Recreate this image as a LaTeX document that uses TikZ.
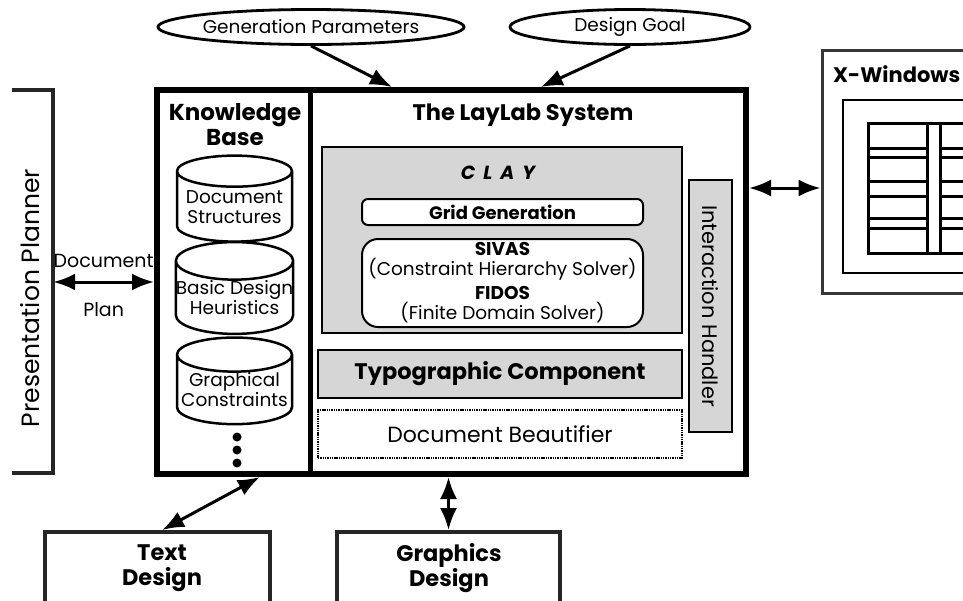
\documentclass[tikz,border=0pt]{standalone}
\usepackage{fontspec}
\setmainfont{Poppins}
\usetikzlibrary{positioning,fit,calc,backgrounds}
\usetikzlibrary{shapes.geometric}
\usetikzlibrary{arrows.meta}

\begin{document}
\begin{tikzpicture}[x=1pt,y=-1pt,
   every node/.style={inner sep=0pt},
   chk/.style={draw=black!85,line width=4pt},
   chkthin/.style={draw=black!78,line width=3pt},
   frame/.style={draw,line width=2pt},
   shade/.style={fill=black!16},
   txt/.style={font=\fontsize{18.5}{20}\selectfont},
   big/.style={font=\fontsize{22}{25}\selectfont},
   bigb/.style={font=\fontsize{22.5}{25}\selectfont\bfseries},
   oval/.style={ellipse,draw,line width=2.8pt,fill=white,txt},
   cyl/.style={cylinder,shape border rotate=90,aspect=0.32,draw,line width=2.5pt,fill=white,
     minimum width=115pt,minimum height=86pt,align=center,txt},
   rbox/.style={draw,line width=2pt,fill=white,minimum width=281pt},
   dbl/.style={{Latex[length=22pt,width=17pt]}-{Latex[length=22pt,width=17pt]},line width=3pt},
   sgl/.style={-{Latex[length=22pt,width=17pt]},line width=3pt}]

 \fill[white] (0,0) rectangle (963,600);
 \useasboundingbox (0,0) rectangle (963,600);

 % inputs on top
 \node[oval,minimum width=304pt,minimum height=35pt] (gen_par) at (311,27) {Generation Parameters};
 \node[oval,minimum width=240pt,minimum height=35pt] (goal) at (630,27) {Design Goal};

 % the system box and the knowledge base column
 \node[fit={(157,90) (310,474)}] (kb) {};
 \begin{scope}[on background layer]
  \fill[black!16] (kb.north west) rectangle (kb.south east);
 \end{scope}
 \node[fit={(157,90) (746,474)},draw,line width=6pt] (laylab) {};
 \draw[line width=5pt] (kb.north east) -- (kb.south east);

 \node[align=center,font=\fontsize{23}{25}\selectfont\bfseries] (kb_title) at (235,125) {Knowledge\\Base};
 \node[cyl] (kb_doc) at (234.5,207) {Document\\Structures};
 \node[cyl] (kb_heur) at (234.5,298) {Basic Design\\Heuristics};
 \node[cyl] (kb_graph) at (234.5,390) {Graphical\\Constraints};
 \foreach \y in {437,450,463}
   \fill (237,\y) circle (4.5pt);

 \node[bigb] (ll_title) at (523,115) {The LayLab System};

 % CLAY
 \node[fit={(322,147) (682,333)},frame,shade] (clay) {};
 \node[font=\fontsize{19}{20}\selectfont\bfseries\itshape] (clay_title) at (498,173)
   {C\hspace{8pt}L\hspace{8pt}A\hspace{8pt}Y};
 \node[rbox,rounded corners=6pt,minimum height=26pt,font=\fontsize{18}{20}\selectfont\bfseries]
   (grid_gen) at (502.5,212) {Grid Generation};
 \node[rbox,rounded corners=16pt,minimum height=88pt,align=center,txt] (solver) at (502.5,283)
   {\textbf{SIVAS}\\(Constraint Hierarchy Solver)\\[4pt]\textbf{FIDOS}\\(Finite Domain Solver)};

 \node[frame,shade,minimum width=364pt,minimum height=48pt,bigb] (typo) at (500,374) {Typographic Component};
 \node[draw,line width=2.5pt,dash pattern=on 1.4pt off 0.9pt,fill=white,minimum width=364pt,
   minimum height=48pt,big] (beaut) at (500,434) {Document Beautifier};
 \node[frame,shade,rotate=-90,minimum width=252pt,minimum height=43pt,font=\fontsize{21}{22}\selectfont]
   (inter) at (710.5,306) {Interaction Handler};

 % X-Windows
 \node[fit={(822,50) (1010,293)},chkthin] (xwin) {};
 \node[anchor=base west,font=\fontsize{21}{22}\selectfont\bfseries] (xw_title) at (833,82) {X-Windows};
 \draw[line width=2.5pt] (843,100) rectangle (1010,273);
 \draw[line width=3pt] (868,123) rectangle (1010,253) (927,123) -- (927,253) (940,123) -- (940,253);
 \foreach \ya/\yb in {148/157,181/196,218/228}
   \draw[line width=3pt] (868,\ya) -- (927,\ya) (868,\yb) -- (927,\yb)
                         (940,\ya) -- (1010,\ya) (940,\yb) -- (1010,\yb);

 % Presentation planner
 \node[fit={(12,90) (53,473)}] (planner) {};
 \draw[chk] (planner.north west) -- (planner.north east) -- (planner.south east) -- (planner.south west);
 \node[rotate=90,font=\fontsize{25}{26}\selectfont] (pp_text) at (30,298) {Presentation Planner};

 % design boxes below
 \node[fit={(45,532) (270,640)},chk] (text_des) {};
 \node[align=center,bigb] (td_text) at (162,568) {Text\\Design};
 \node[fit={(337,532) (560,640)},chk] (graph_des) {};
 \node[align=center,bigb] (gd_text) at (449,568) {Graphics\\Design};

 % connectors
 \coordinate (dp_y) at (0,282);
 \coordinate (xw_y) at (0,188);
 \draw[sgl] (gen_par.south) -- ($(laylab.north west)!0.4!(laylab.north east)$);
 \draw[sgl] (goal.south) -- ($(laylab.north west)!0.65!(laylab.north east)$);
 \draw[dbl] (planner.east |- dp_y) -- (laylab.west |- dp_y)
   node[midway,above=13pt,font=\fontsize{19}{20}\selectfont] (dp_top) {Document}
   node[midway,below=19pt,font=\fontsize{19}{20}\selectfont] (dp_bot) {Plan};
 \draw[dbl] (laylab.east |- xw_y) -- (xwin.west |- xw_y);
 \draw[dbl] ($(text_des.north west)!0.52!(text_des.north east)$) -- ($(laylab.south west)!0.178!(laylab.south east)$);
 \draw[dbl] (graph_des.north) -- (graph_des.north |- laylab.south);

\end{tikzpicture}
\end{document}
